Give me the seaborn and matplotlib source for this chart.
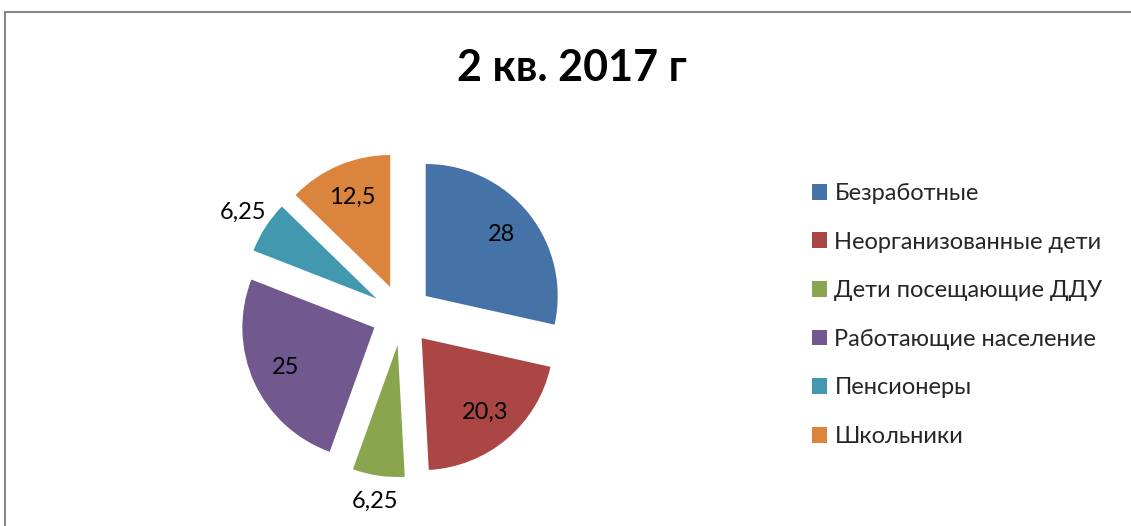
import numpy as np
import matplotlib
matplotlib.use("Agg")
import matplotlib.pyplot as plt
import seaborn as sns
from matplotlib.patches import Rectangle

# data
categories = ["Безработные", "Неорганизованные дети", "Дети посещающие ДДУ",
              "Работающие население", "Пенсионеры", "Школьники"]
values = [28, 20.3, 6.25, 25, 6.25, 12.5]
value_labels = ["28", "20,3", "6,25", "25", "6,25", "12,5"]
title = "2 кв. 2017 г"

colors = ["#4572A7", "#AA4643", "#89A54E", "#71588F", "#4198AF", "#DB843D"]

sns.set_theme(style="white")
plt.rcParams['font.family'] = ['Lato', 'DejaVu Sans']

W, H = 1131, 526
fig = plt.figure(figsize=(W / 100, H / 100), dpi=100)

# outer chart frame (cut off on the right and bottom)
fig.patches.append(Rectangle((5 / W, -0.2), 1.2, 1.2 - 12 / H,
                             transform=fig.transFigure, fill=False,
                             edgecolor="#878787", linewidth=1.5))

# pie axes: center ~ (400, 315) px, radius ~132 px
R = 132
side = 3 * R
cx, cy = 402, H - 315
ax = fig.add_axes([(cx - side / 2) / W, (cy - side / 2) / H, side / W, side / H])

wedges, _ = ax.pie(values, colors=colors, startangle=90, counterclock=False,
                   explode=[0.23] * len(values), labels=None,
                   wedgeprops=dict(linewidth=0))
ax.set_xlim(-1.5, 1.5)
ax.set_ylim(-1.5, 1.5)
ax.set_aspect("equal")
ax.axis("off")

# value labels: inside for large slices, outside for the small ones
for w, txt, v in zip(wedges, value_labels, values):
    mid = np.deg2rad((w.theta1 + w.theta2) / 2)
    dist = 0.74 if v > 10 else 1.2
    x = w.center[0] + dist * w.r * np.cos(mid)
    y = w.center[1] + dist * w.r * np.sin(mid)
    ax.text(x, y, txt, ha="center", va="center", fontsize=17, color="black")

fig.text(572 / W, 1 - 68 / H, title, ha="center", va="center",
         fontsize=31, fontweight="bold", color="black")

fig.legend(wedges, categories, loc="upper left",
           bbox_to_anchor=(812 / W, 1 - 183 / H), frameon=False,
           fontsize=17, handlelength=0.65, handleheight=0.65,
           handletextpad=0.3, labelspacing=1.17, borderpad=0,
           borderaxespad=0)

fig.savefig("out.png", dpi=100, facecolor="white")
